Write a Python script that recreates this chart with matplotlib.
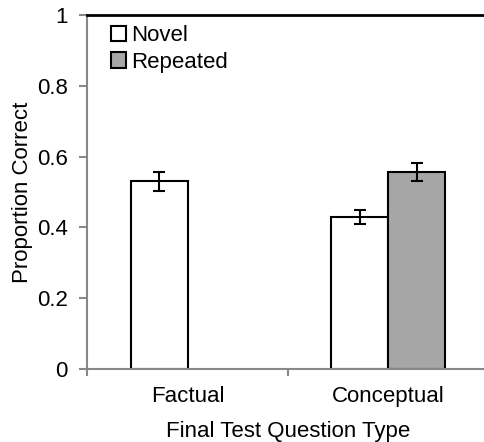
import matplotlib
matplotlib.use("Agg")
import matplotlib.pyplot as plt
import numpy as np

categories = ["Factual", "Conceptual"]
novel = [0.53, 0.43]
novel_err = [0.028, 0.02]
repeated = [np.nan, 0.557]
repeated_err = [np.nan, 0.025]
yticks = [0, 0.2, 0.4, 0.6, 0.8, 1.0]
yticklabels = ["0", "0.2", "0.4", "0.6", "0.8", "1"]

plt.rcParams['font.family'] = ['Liberation Sans', 'DejaVu Sans']
FS = 16
fig = plt.figure(figsize=(4.84, 4.42), dpi=100)
ax = fig.add_axes([0.18, 0.165, 0.83, 0.801])

x = np.arange(len(categories)) + 0.5
w = 0.284
ekw = dict(ecolor="black", elinewidth=1.5, capsize=4, capthick=1.5)
ax.bar(x - w / 2, novel, w, yerr=novel_err, color="white", edgecolor="black",
       linewidth=1.5, label="Novel", error_kw=ekw)
mask = np.array([not np.isnan(v) for v in repeated])
xr = (x + w / 2)[mask]
ax.bar(xr, np.array(repeated)[mask], w, yerr=np.array(repeated_err)[mask],
       color="#a6a6a6", edgecolor="black", linewidth=1.5, label="Repeated",
       error_kw=ekw)

ax.set_xlim(0, 2)
ax.set_ylim(0, 1)
ax.set_yticks(yticks)
ax.set_yticklabels(yticklabels, fontsize=FS)
ax.set_xticks([0.0, 1.0, 2.0])
ax.set_xticklabels(["", "", ""])
ax.set_xticks(x, minor=True)
ax.set_xticklabels(categories, minor=True, fontsize=FS)
ax.tick_params(axis='x', which='minor', length=0, pad=12)
ax.tick_params(axis='x', which='major', length=5, color="#888888", width=1.5,
               direction='out')
ax.tick_params(axis='y', length=6, color="#888888", width=1.5, direction='out', pad=8)

for s in ["left", "bottom"]:
    ax.spines[s].set_color("#888888")
    ax.spines[s].set_linewidth(1.5)
ax.spines["right"].set_visible(False)
ax.spines["top"].set_color("black")
ax.spines["top"].set_linewidth(2)

ax.set_ylabel("Proportion Correct", fontsize=FS, labelpad=3)
ax.set_xlabel("Final Test Question Type", fontsize=FS, labelpad=10)

ax.legend(loc="upper left", bbox_to_anchor=(0.02, 1.015), frameon=False, fontsize=FS,
          handlelength=0.7, handleheight=0.7, handletextpad=0.2, labelspacing=0.25,
          borderaxespad=0.3)

fig.savefig("out.png", dpi=100)
